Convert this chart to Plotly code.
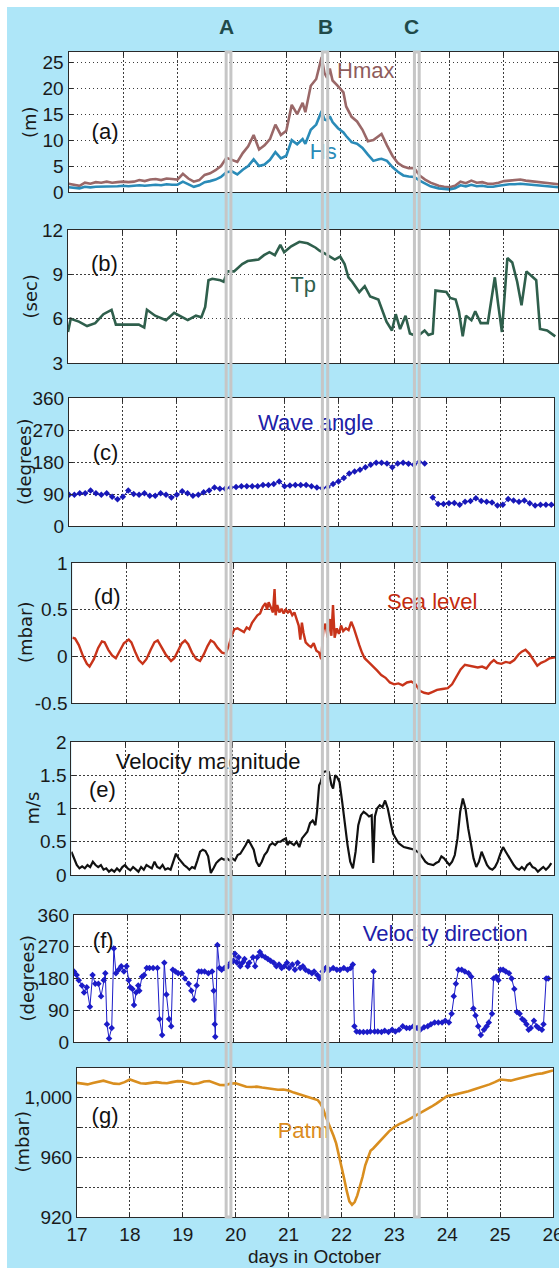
import plotly.graph_objects as go

# ---------------- data (days in October) ----------------
# (a) wave heights, m
T_A = [17.0, 17.1, 17.2, 17.3, 17.4, 17.5, 17.6, 17.7, 17.8, 17.9,
       18.0, 18.1, 18.2, 18.3, 18.4, 18.5, 18.6, 18.7, 18.8, 18.9,
       19.0, 19.1, 19.2, 19.3, 19.4, 19.5, 19.6, 19.7, 19.8, 19.9,
       20.0, 20.1, 20.2, 20.3, 20.4, 20.5, 20.6, 20.7, 20.8, 20.9,
       21.0, 21.1, 21.2, 21.3, 21.35, 21.45, 21.55, 21.65, 21.7, 21.75,
       21.8, 21.85, 21.95, 22.05, 22.1, 22.2, 22.3, 22.4, 22.5, 22.6,
       22.7, 22.75, 22.85, 22.95, 23.05, 23.15, 23.25, 23.35, 23.45, 23.55,
       23.65, 23.8, 23.9, 24.0, 24.1, 24.2, 24.3, 24.4, 24.5, 24.6,
       24.7, 24.8, 24.9, 25.0, 25.1, 25.2, 25.3, 25.4, 25.5, 25.6,
       25.7, 25.8, 25.9, 26.0]
HMAX = [1.6, 1.4, 1.2, 1.8, 1.6, 1.9, 1.8, 2.0, 1.8, 1.9,
        2.0, 1.9, 2.0, 2.3, 2.1, 2.4, 2.5, 2.3, 2.6, 2.5,
        2.4, 3.5, 2.6, 2.0, 2.3, 3.3, 3.6, 4.2, 5.0, 6.6,
        6.2, 5.8, 7.5, 8.8, 11.0, 8.2, 9.0, 10.2, 13.0, 11.0,
        11.8, 16.8, 15.0, 17.2, 15.4, 20.5, 21.8, 26.0, 23.0, 22.0,
        23.8, 21.5, 20.4, 19.2, 16.5, 14.5, 13.6, 12.0, 9.8, 10.0,
        10.8, 11.2, 9.0, 7.0, 5.6, 4.9, 4.6, 4.6, 3.2, 2.4,
        1.8, 1.2, 1.0, 0.9, 1.2, 2.0, 1.7, 2.2, 1.8, 1.9,
        1.6, 1.6, 1.8, 2.1, 2.2, 2.3, 2.4, 2.2, 2.1, 2.0,
        1.8, 1.7, 1.6, 1.5]
HS = [0.9, 0.8, 0.7, 1.0, 0.9, 1.0, 1.0, 1.1, 1.0, 1.1,
      1.2, 1.1, 1.2, 1.3, 1.2, 1.3, 1.4, 1.3, 1.5, 1.4,
      1.4, 2.0, 1.5, 1.0, 1.3, 1.9, 2.1, 2.4, 2.9, 3.8,
      4.0, 3.4, 4.3, 5.0, 6.3, 5.0, 5.3, 6.2, 7.7, 6.5,
      7.0, 10.0, 9.2, 10.2, 9.3, 12.0, 13.0, 15.6, 14.0, 13.8,
      14.6, 13.5, 12.3, 11.5, 10.8, 9.6, 9.3, 8.5, 7.2, 6.0,
      6.3, 6.4, 6.0, 4.8, 3.9, 3.2, 3.0, 2.9, 2.2, 1.6,
      1.1, 0.7, 0.6, 0.5, 0.7, 1.3, 1.1, 1.4, 1.1, 1.2,
      1.0, 1.0, 1.2, 1.4, 1.5, 1.5, 1.6, 1.5, 1.4, 1.3,
      1.2, 1.1, 1.0, 0.9]

# (b) peak period, s
T_B = [17.00, 17.05, 17.20, 17.35, 17.50, 17.65, 17.80, 17.88, 17.95, 18.10,
       18.30, 18.40, 18.45, 18.60, 18.80, 18.95, 19.10, 19.20, 19.35, 19.45,
       19.52, 19.58, 19.65, 19.80, 19.86, 19.93, 20.05, 20.20, 20.30, 20.50,
       20.60, 20.70, 20.80, 20.90, 20.97, 21.10, 21.25, 21.40, 21.55, 21.62,
       21.72, 21.80, 21.90, 22.00, 22.08, 22.15, 22.22, 22.35, 22.45, 22.55,
       22.70, 22.85, 22.95, 23.02, 23.10, 23.20, 23.28, 23.35, 23.40, 23.45,
       23.55, 23.62, 23.70, 23.75, 23.95, 24.02, 24.12, 24.18, 24.25, 24.31,
       24.41, 24.48, 24.58, 24.71, 24.84, 24.90, 24.97, 25.07, 25.16, 25.25,
       25.33, 25.42, 25.55, 25.60, 25.67, 25.80, 25.95]
TP = [5.1, 6.0, 5.8, 5.5, 5.7, 6.3, 6.6, 5.6, 5.6, 5.6,
      5.6, 5.4, 6.6, 6.2, 5.9, 6.4, 6.1, 5.9, 6.2, 6.1,
      6.8, 8.6, 8.7, 8.6, 8.5, 9.2, 9.2, 9.7, 9.9, 10.0,
      10.3, 10.5, 10.3, 11.0, 10.5, 10.9, 11.2, 11.1, 10.8, 10.6,
      10.4, 10.2, 10.0, 10.2, 9.7, 8.8, 8.5, 7.8, 8.2, 7.5,
      7.3, 5.8, 5.2, 6.3, 5.3, 6.2, 5.0, 4.9, None, 4.9,
      5.2, 4.9, 5.0, 7.9, 7.8, 7.4, 7.3, 6.5, 4.8, 6.2,
      5.9, 6.5, 5.7, 5.7, 8.8, 7.0, 5.1, 10.1, 9.8, 8.5,
      6.9, 9.2, 8.8, 8.6, 5.3, 5.2, 4.8]

# (c) wave direction, degrees
T_C = [17.0, 17.1, 17.2, 17.3, 17.4, 17.5, 17.6, 17.7, 17.8, 17.9,
       18.0, 18.1, 18.2, 18.3, 18.4, 18.5, 18.6, 18.7, 18.8, 18.9,
       19.0, 19.1, 19.2, 19.3, 19.4, 19.5, 19.6, 19.7, 19.8, 19.9,
       20.0, 20.1, 20.2, 20.3, 20.4, 20.5, 20.6, 20.7, 20.8, 20.9,
       21.0, 21.1, 21.2, 21.3, 21.4, 21.5, 21.6, 21.7, 21.8, 21.9,
       22.0, 22.1, 22.2, 22.3, 22.4, 22.5, 22.6, 22.7, 22.8, 22.9,
       23.0, 23.1, 23.2, 23.3, 23.4, 23.5, 23.6, 23.68, 23.75, 23.85,
       23.95, 24.05, 24.15, 24.25, 24.35, 24.45, 24.55, 24.65, 24.75, 24.85,
       24.95, 25.05, 25.15, 25.25, 25.35, 25.45, 25.55, 25.65, 25.75, 25.85,
       25.95]
WAVE_DIR = [88, 88, 92, 92, 100, 92, 88, 92, 82, 75,
            82, 100, 90, 88, 92, 85, 85, 92, 88, 80,
            88, 98, 92, 85, 88, 95, 100, 108, 105, 105,
            108, 110, 112, 112, 112, 112, 115, 115, 118, 125,
            112, 114, 115, 115, 115, 112, 108, 106, 110, 118,
            125, 135, 148, 153, 158, 165, 172, 178, 178, 176,
            165, 176, 178, 175, 172, 180, 176, None, 80, 62,
            62, 64, 65, 60, 68, 70, 78, 70, 68, 66,
            58, 60, 76, 72, 68, 72, 64, 58, 60, 60,
            60]

# (d) sea level, mbar
T_D = [17.00, 17.05, 17.12, 17.20, 17.27, 17.32, 17.40, 17.48, 17.55, 17.60,
       17.67, 17.74, 17.81, 17.88, 17.96, 18.05, 18.10, 18.17, 18.24, 18.31,
       18.38, 18.46, 18.53, 18.59, 18.66, 18.74, 18.84, 18.90, 18.97, 19.04,
       19.10, 19.16, 19.23, 19.31, 19.38, 19.45, 19.52, 19.58, 19.64, 19.71,
       19.79, 19.86, 19.92, 19.97, 20.02, 20.08, 20.14, 20.20, 20.25, 20.30,
       20.35, 20.40, 20.45, 20.50, 20.55, 20.60, 20.63, 20.66, 20.70, 20.74,
       20.77, 20.79, 20.82, 20.86, 20.90, 20.94, 20.98, 21.02, 21.06, 21.10,
       21.14, 21.18, 21.22, 21.25, 21.28, 21.31, 21.35, 21.40, 21.45, 21.50,
       21.55, 21.60, 21.64, 21.68, 21.72, 21.76, 21.80, 21.83, 21.86, 21.89,
       21.93, 21.97, 22.01, 22.05, 22.10, 22.15, 22.20, 22.25, 22.30, 22.35,
       22.40, 22.45, 22.52, 22.60, 22.68, 22.76, 22.84, 22.92, 23.00, 23.08,
       23.16, 23.24, 23.32, 23.40, 23.48, 23.56, 23.64, 23.72, 23.80, 23.90,
       24.00, 24.08, 24.16, 24.24, 24.32, 24.40, 24.48, 24.56, 24.64, 24.72,
       24.80, 24.86, 24.92, 25.00, 25.08, 25.16, 25.24, 25.32, 25.38, 25.45,
       25.52, 25.60, 25.67, 25.74, 25.82, 25.90, 26.00]
SEA_LEVEL = [0.20, 0.19, 0.12, 0.00, -0.08, -0.11, -0.03, 0.09, 0.16, 0.15,
             0.07, 0.01, -0.02, 0.05, 0.14, 0.18, 0.15, 0.05, -0.04, -0.08,
             -0.03, 0.07, 0.15, 0.17, 0.10, 0.02, -0.05, -0.02, 0.06, 0.14,
             0.17, 0.13, 0.04, -0.03, -0.05, 0.02, 0.11, 0.17, 0.15, 0.09,
             0.04, 0.03, 0.12, 0.22, 0.29, 0.30, 0.28, 0.26, 0.31, 0.29,
             0.36, 0.40, 0.44, 0.46, 0.53, 0.57, 0.50, 0.58, 0.52, 0.47,
             0.72, 0.44, 0.55, 0.47, 0.51, 0.46, 0.50, 0.47, 0.49, 0.44,
             0.47, 0.40, 0.33, 0.18, 0.36, 0.25, 0.15, 0.12, 0.10, 0.14,
             0.06, 0.04, -0.03, 0.28, 0.35, 0.20, 0.40, 0.22, 0.55, 0.20,
             0.30, 0.24, 0.33, 0.27, 0.30, 0.28, 0.37, 0.30, 0.20, 0.12,
             0.04, -0.02, -0.06, -0.10, -0.15, -0.20, -0.23, -0.28, -0.30, -0.29,
             -0.31, -0.28, -0.27, -0.30, -0.37, -0.39, -0.40, -0.38, -0.36, -0.35,
             -0.34, -0.30, -0.22, -0.14, -0.09, -0.10, -0.11, -0.12, -0.11, -0.13,
             -0.07, -0.04, -0.07, -0.08, -0.06, -0.07, -0.04, 0.02, 0.05, 0.07,
             0.03, -0.04, -0.10, -0.07, -0.05, -0.02, -0.01]

# (e) current speed, m/s
T_E = [17.00, 17.05, 17.10, 17.15, 17.20, 17.25, 17.30, 17.35, 17.40, 17.45,
       17.50, 17.55, 17.60, 17.65, 17.70, 17.75, 17.80, 17.85, 17.90, 17.95,
       18.00, 18.05, 18.10, 18.15, 18.20, 18.25, 18.30, 18.35, 18.40, 18.45,
       18.50, 18.55, 18.60, 18.65, 18.70, 18.75, 18.80, 18.85, 18.90, 18.95,
       19.00, 19.05, 19.10, 19.15, 19.20, 19.25, 19.30, 19.35, 19.40, 19.45,
       19.50, 19.55, 19.60, 19.65, 19.70, 19.75, 19.80, 19.85, 19.90, 19.95,
       20.00, 20.05, 20.10, 20.15, 20.20, 20.25, 20.30, 20.35, 20.40, 20.45,
       20.50, 20.55, 20.60, 20.65, 20.70, 20.75, 20.80, 20.85, 20.90, 20.95,
       21.00, 21.03, 21.07, 21.10, 21.15, 21.20, 21.25, 21.30, 21.35, 21.40,
       21.45, 21.50, 21.55, 21.58, 21.62, 21.65, 21.70, 21.75, 21.80, 21.85,
       21.88, 21.92, 21.95, 22.00, 22.05, 22.10, 22.15, 22.20, 22.25, 22.30,
       22.35, 22.40, 22.45, 22.50, 22.55, 22.60, 22.63, 22.66, 22.70, 22.75,
       22.80, 22.85, 22.90, 22.95, 23.00, 23.05, 23.10, 23.15, 23.20, 23.30,
       23.40, 23.50, 23.55, 23.60, 23.65, 23.70, 23.75, 23.80, 23.85, 23.90,
       23.95, 24.00, 24.05, 24.10, 24.15, 24.20, 24.25, 24.30, 24.35, 24.40,
       24.45, 24.50, 24.55, 24.60, 24.65, 24.70, 24.75, 24.80, 24.85, 24.90,
       24.95, 25.00, 25.05, 25.10, 25.15, 25.20, 25.25, 25.30, 25.35, 25.40,
       25.45, 25.50, 25.55, 25.60, 25.65, 25.70, 25.75, 25.80, 25.85, 25.90,
       25.95]
VEL_MAG = [0.35, 0.25, 0.15, 0.10, 0.13, 0.10, 0.15, 0.12, 0.20, 0.15,
           0.12, 0.15, 0.08, 0.10, 0.05, 0.08, 0.05, 0.10, 0.06, 0.12,
           0.15, 0.10, 0.07, 0.12, 0.08, 0.05, 0.12, 0.08, 0.15, 0.12,
           0.10, 0.20, 0.12, 0.10, 0.15, 0.08, 0.10, 0.08, 0.20, 0.32,
           0.25, 0.20, 0.15, 0.12, 0.08, 0.12, 0.10, 0.22, 0.35, 0.38,
           0.36, 0.28, 0.03, 0.10, 0.18, 0.22, 0.25, 0.23, 0.25, 0.22,
           0.25, 0.22, 0.30, 0.32, 0.38, 0.45, 0.53, 0.45, 0.38, 0.20,
           0.13, 0.20, 0.30, 0.35, 0.45, 0.48, 0.45, 0.50, 0.50, 0.53,
           0.55, 0.45, 0.50, 0.48, 0.45, 0.50, 0.42, 0.55, 0.60, 0.65,
           0.78, 0.82, 0.75, 0.95, 1.35, 1.40, 1.55, 1.56, 1.55, 1.35,
           1.30, 1.50, 1.48, 1.40, 1.10, 0.75, 0.45, 0.20, 0.10, 0.35,
           0.75, 0.90, 0.95, 0.92, 0.88, 0.90, 0.18, 0.88, 1.00, 1.05,
           1.02, 1.12, 1.00, 0.80, 0.62, 0.55, 0.48, 0.45, 0.42, 0.40,
           0.38, 0.32, 0.25, 0.20, 0.17, 0.16, 0.15, 0.18, 0.20, 0.28,
           0.25, 0.20, 0.15, 0.20, 0.30, 0.55, 0.95, 1.15, 1.00, 0.70,
           0.45, 0.25, 0.12, 0.20, 0.35, 0.25, 0.15, 0.10, 0.08, 0.12,
           0.20, 0.32, 0.42, 0.35, 0.28, 0.22, 0.15, 0.10, 0.08, 0.12,
           0.08, 0.15, 0.18, 0.12, 0.10, 0.05, 0.08, 0.12, 0.08, 0.12,
           0.18]

# (f) current direction, degrees
T_F = [17.00, 17.05, 17.09, 17.15, 17.19, 17.24, 17.30, 17.35, 17.40, 17.46,
       17.51, 17.56, 17.59, 17.62, 17.66, 17.71, 17.75, 17.79, 17.84, 17.89,
       17.94, 17.99, 18.03, 18.06, 18.10, 18.13, 18.17, 18.21, 18.23, 18.28,
       18.32, 18.37, 18.42, 18.49, 18.57, 18.61, 18.66, 18.70, 18.74, 18.79,
       18.83, 18.86, 18.91, 18.96, 19.03, 19.09, 19.16, 19.21, 19.26, 19.31,
       19.35, 19.40, 19.46, 19.53, 19.60, 19.63, 19.65, 19.66, 19.70, 19.74,
       19.78, 19.83, 19.90, 19.95, 20.00, 20.03, 20.07, 20.10, 20.13, 20.17,
       20.21, 20.27, 20.30, 20.37, 20.41, 20.45, 20.50, 20.54, 20.60, 20.65,
       20.70, 20.76, 20.81, 20.86, 20.91, 20.96, 21.01, 21.05, 21.11, 21.16,
       21.21, 21.26, 21.31, 21.36, 21.42, 21.48, 21.52, 21.58, 21.62, 21.68,
       21.74, 21.81, 21.88, 21.95, 22.01, 22.08, 22.15, 22.21, 22.25, 22.28,
       22.32, 22.38, 22.45, 22.52, 22.58, 22.64, 22.66, 22.72, 22.79, 22.85,
       22.92, 22.99, 23.05, 23.12, 23.19, 23.26, 23.32, 23.39, 23.46, 23.52,
       23.59, 23.66, 23.72, 23.79, 23.86, 23.93, 23.99, 24.06, 24.11, 24.15,
       24.19, 24.24, 24.30, 24.36, 24.43, 24.48, 24.52, 24.56, 24.61, 24.66,
       24.72, 24.77, 24.81, 24.87, 24.90, 24.95, 24.99, 25.03, 25.08, 25.13,
       25.19, 25.24, 25.29, 25.34, 25.39, 25.44, 25.48, 25.52, 25.56, 25.60,
       25.66, 25.71, 25.75, 25.81, 25.84, 25.89, 25.93]
VEL_DIR = [200, 190, 175, 160, 140, 155, 100, 190, 165, 165,
           130, 175, 195, 50, 10, 40, 265, 195, 205, 215,
           200, 215, 175, 155, 150, 105, 140, 160, 145, 185,
           190, 210, 210, 210, 210, 65, 20, 225, 135, 65,
           45, 205, 200, 195, 195, 180, 165, 145, 120, 160,
           200, 200, 200, 195, 200, 145, 50, 15, 275, 210,
           205, 210, 215, 225, 230, 250, 225, 240, 215, 225,
           235, 215, 225, 240, 215, 240, 255, 245, 240, 235,
           230, 225, 215, 220, 210, 215, 225, 210, 220, 205,
           225, 210, 215, 205, 200, 195, 200, 190, 180, 200,
           210, 205, 210, 205, 205, 210, 205, 210, 220, 45,
           30, 28, 28, 28, 30, 200, 30, 30, 28, 32,
           28, 35, 30, 35, 45, 40, 40, 45, 40, 35,
           42, 45, 50, 55, 55, 55, 60, 55, 80, 130,
           165, 205, 205, 200, 195, 185, 95, 75, 45, 20,
           35, 45, 55, 80, 180, 185, 175, 205, 205, 200,
           195, 180, 150, 85, 80, 65, 60, 50, 35, 40,
           60, 45, 40, 35, 50, 180, 180]

# (g) atmospheric pressure, mbar
T_G = [17.0, 17.1, 17.2, 17.3, 17.4, 17.5, 17.6, 17.7, 17.8, 17.9,
       18.0, 18.1, 18.2, 18.3, 18.4, 18.5, 18.6, 18.7, 18.8, 18.9,
       19.0, 19.1, 19.2, 19.3, 19.4, 19.5, 19.6, 19.7, 19.8, 19.9,
       20.0, 20.1, 20.2, 20.3, 20.4, 20.5, 20.6, 20.7, 20.8, 20.9,
       21.0, 21.1, 21.2, 21.3, 21.4, 21.5, 21.55, 21.6, 21.65, 21.7,
       21.75, 21.8, 21.85, 21.9, 21.95, 22.0, 22.05, 22.1, 22.15, 22.2,
       22.25, 22.3, 22.35, 22.4, 22.45, 22.5, 22.55, 22.6, 22.65, 22.7,
       22.8, 22.9, 23.0, 23.1, 23.2, 23.3, 23.4, 23.5, 23.6, 23.7,
       23.8, 23.9, 24.0, 24.1, 24.2, 24.3, 24.4, 24.5, 24.6, 24.7,
       24.8, 24.9, 25.0, 25.1, 25.2, 25.3, 25.4, 25.5, 25.6, 25.7,
       25.8, 25.9, 26.0]
PATM = [1010.0, 1009.5, 1009.0, 1010.0, 1011.0, 1011.5, 1010.5, 1009.5, 1009.3, 1010.5,
        1012.3, 1011.0, 1009.8, 1009.5, 1010.0, 1010.5, 1010.0, 1009.8, 1010.5, 1011.2,
        1011.0, 1010.0, 1009.3, 1009.8, 1011.0, 1011.3, 1010.0, 1008.6, 1008.5, 1009.5,
        1009.8, 1008.5, 1007.4, 1007.2, 1007.5, 1006.9, 1006.5, 1006.0, 1005.4, 1005.6,
        1004.9, 1003.5, 1002.5, 1001.5, 1000.5, 999.3, 998.5, 996.3, 993.0, 987.7,
        983.5, 979.2, 974.5, 969.4, 962.0, 954.7, 946.0, 937.5, 930.5, 928.2,
        930.0, 934.5, 940.0, 947.0, 954.7, 960.0, 964.5, 966.0, 968.0, 970.0,
        974.0, 977.5, 980.4, 982.5, 984.0, 986.0, 987.7, 989.5, 991.9, 994.0,
        996.3, 999.0, 1001.2, 1001.8, 1002.5, 1003.3, 1004.4, 1005.5, 1006.6, 1007.8,
        1009.0, 1010.5, 1012.3, 1012.0, 1011.5, 1012.5, 1013.5, 1014.5, 1015.4, 1016.0,
        1016.4, 1017.5, 1018.4]

# storm phases marked across all panels (day ranges on the bottom axis)
EVENT_NAMES = ["A", "B", "C"]
EVENT_START = [19.82, 21.64, 23.38]
EVENT_END = [19.91, 21.74, 23.47]
EVENT_LABEL_X = [19.83, 21.69, 23.33]

DAY_TICKS = [17, 18, 19, 20, 21, 22, 23, 24, 25, 26]

# ---------------- layout helpers ----------------
W, H = 559, 1268
EDGE = 7                       # thin white border along the left and top
BG = "#aee6f8"
AXC = "#2a2a2a"
GRID = "#3c3c3c"
GRID_DASH = "1.5px,2.5px"
NARROW = "Liberation Sans Narrow, Arial Narrow, Liberation Sans, sans-serif"
TICK_FONT = dict(family=NARROW, size=19, color="#1a1a1a")
YTITLE_FONT = dict(family="DejaVu Sans, sans-serif", size=18, color="#1a1a1a")


def px_x(px):
    return px / W


def px_y(py):
    return 1 - py / H


# plot frames in pixels: left, right, top, bottom
FRAMES = [
    (68.6, 558.4, 52, 192),
    (68.0, 558.0, 230, 363),
    (69.0, 554.0, 398, 526),
    (72.4, 555.0, 563, 703),
    (71.4, 554.0, 742, 875),
    (74.0, 552.0, 915, 1042),
    (77.0, 553.0, 1068, 1217),
]

Y_SPECS = [
    dict(range=[0, 27], tickvals=[0, 5, 10, 15, 20, 25],
         ticktext=["0", "5", "10", "15", "20", "25"], title="(m)", tx=30),
    dict(range=[3, 12], tickvals=[3, 6, 9, 12],
         ticktext=["3", "6", "9", "12"], title="(sec)", tx=30),
    dict(range=[0, 360], tickvals=[0, 90, 180, 270, 360],
         ticktext=["0", "90", "180", "270", "360"], title="(degrees)", tx=25),
    dict(range=[-0.5, 1], tickvals=[-0.5, 0, 0.5, 1],
         ticktext=["-0.5", "0", "0.5", "1"], title="(mbar)", tx=25),
    dict(range=[0, 2], tickvals=[0, 0.5, 1, 1.5, 2],
         ticktext=["0", "0.5", "1", "1.5", "2"], title="m/s", tx=32),
    dict(range=[0, 360], tickvals=[0, 90, 180, 270, 360],
         ticktext=["0", "90", "180", "270", "360"], title="(degrees)", tx=27),
    dict(range=[920, 1020], tickvals=[920, 940, 960, 980, 1000, 1020],
         ticktext=["920", "", "960", "", "1,000", ""], title="(mbar)", tx=22),
]


def ax_id(i, kind):
    return kind if i == 1 else f"{kind}{i}"


fig = go.Figure()


def add_line(i, x, y, color, width=2.4, markers=False):
    kw = dict(x=x, y=y, xaxis=ax_id(i, "x"), yaxis=ax_id(i, "y"),
              line=dict(color=color, width=width), showlegend=False,
              hoverinfo="skip", connectgaps=False)
    if markers:
        kw.update(mode="lines+markers",
                  marker=dict(symbol="diamond", size=5, color=color))
    else:
        kw.update(mode="lines")
    fig.add_trace(go.Scatter(**kw))


def add_text(i, x, y, text, color, size=22):
    fig.add_trace(go.Scatter(
        x=[x], y=[y], mode="text", text=[text], textposition="middle center",
        textfont=dict(family=NARROW, size=size, color=color),
        xaxis=ax_id(i, "x"), yaxis=ax_id(i, "y"),
        showlegend=False, hoverinfo="skip", cliponaxis=False))


# (a)
add_line(1, T_A, HMAX, "#9a6868", 2.6)
add_line(1, T_A, HS, "#2a8bb8", 2.6)
add_text(1, 17.67, 11.2, "(a)", "#111111")
add_text(1, 22.46, 23.1, "Hmax", "#8e5c5c")
add_text(1, 21.68, 7.4, "Hs", "#2a8bb8")
# (b)
add_line(2, T_B, TP, "#2f5f4c", 2.6)
add_text(2, 17.67, 9.6, "(b)", "#111111")
add_text(2, 21.32, 8.2, "Tp", "#2f5f4c")
# (c)
add_line(3, T_C, WAVE_DIR, "#1818b8", 1.0, markers=True)
add_text(3, 17.68, 200, "(c)", "#111111")
add_text(3, 21.58, 286, "Wave angle", "#2020a8")
# (d)
add_line(4, T_D, SEA_LEVEL, "#c8341a", 2.4)
add_text(4, 17.65, 0.62, "(d)", "#111111")
add_text(4, 23.71, 0.57, "Sea level", "#c42c10")
# (e)
add_line(5, T_E, VEL_MAG, "#111111", 2.2)
add_text(5, 17.58, 1.25, "(e)", "#111111")
add_text(5, 19.55, 1.675, "Velocity magnitude", "#111111")
# (f)
add_line(6, T_F, VEL_DIR, "#1c1cc8", 1.0, markers=True)
add_text(6, 17.55, 283, "(f)", "#111111")
add_text(6, 23.99, 301, "Velocity direction", "#2020a8")
# (g)
add_line(7, T_G, PATM, "#d98e1f", 2.6)
add_text(7, 17.53, 986.5, "(g)", "#111111")
add_text(7, 21.28, 976.7, "Patm", "#dc8c1e")

layout = dict(
    width=W, height=H,
    margin=dict(l=0, r=0, t=0, b=0, autoexpand=False),
    paper_bgcolor=BG, plot_bgcolor="white",
    showlegend=False,
)

annotations = []
for i, (frame, spec) in enumerate(zip(FRAMES, Y_SPECS), start=1):
    left, right, top, bottom = frame
    xd = [px_x(left), min(px_x(right), 1.0)]
    yd = [px_y(bottom), px_y(top)]
    last = i == len(FRAMES)
    xa = dict(domain=xd, anchor=ax_id(i, "y"), range=[17, 26],
              tickvals=DAY_TICKS, ticktext=[str(d) for d in DAY_TICKS],
              ticks="inside", ticklen=4, tickcolor=AXC,
              showline=True, linecolor=AXC, linewidth=1.2, mirror="ticks",
              showgrid=True, gridcolor=GRID, griddash=GRID_DASH, gridwidth=1,
              zeroline=False, showticklabels=last, tickfont=TICK_FONT,
              ticklabeloverflow="allow", automargin=False, fixedrange=True)
    ya = dict(domain=yd, anchor=ax_id(i, "x"), range=spec["range"],
              tickvals=spec["tickvals"], ticktext=spec["ticktext"],
              ticks="inside", ticklen=4, tickcolor=AXC,
              showline=True, linecolor=AXC, linewidth=1.2, mirror="ticks",
              showgrid=True, gridcolor=GRID, griddash=GRID_DASH, gridwidth=1,
              zeroline=False, tickfont=TICK_FONT, automargin=False,
              fixedrange=True)
    layout["xaxis" if i == 1 else f"xaxis{i}"] = xa
    layout["yaxis" if i == 1 else f"yaxis{i}"] = ya
    annotations.append(dict(
        text=spec["title"], textangle=-90, showarrow=False,
        xref="paper", yref="paper",
        x=px_x(spec["tx"]), y=px_y((top + bottom) / 2),
        xanchor="center", yanchor="middle", font=YTITLE_FONT))

# x-axis title under the bottom panel
g_left, g_right = FRAMES[-1][0], FRAMES[-1][1]
annotations.append(dict(
    text="days in October", showarrow=False, xref="paper", yref="paper",
    x=px_x((g_left + g_right) / 2), y=px_y(1256),
    xanchor="center", yanchor="middle", font=TICK_FONT))

# event window labels at the top
for name, lx in zip(EVENT_NAMES, EVENT_LABEL_X):
    annotations.append(dict(
        text=f"<b>{name}</b>", x=lx, xref="x7", y=px_y(27), yref="paper",
        showarrow=False, xanchor="center", yanchor="middle",
        font=dict(family="Liberation Sans, Arial, sans-serif", size=21,
                  color="#1f4a4a")))

shapes = []
# event windows drawn over every panel
top_px, bottom_px = FRAMES[0][2], FRAMES[-1][3]
for x0, x1 in zip(EVENT_START, EVENT_END):
    shapes.append(dict(type="rect", xref="x7", yref="paper",
                       x0=x0, x1=x1, y0=px_y(bottom_px), y1=px_y(top_px),
                       line=dict(color="#c6c6c6", width=3),
                       fillcolor="rgba(0,0,0,0)", layer="above"))
# white border along the left and top edges
shapes.append(dict(type="rect", xref="paper", yref="paper",
                   x0=0, x1=px_x(EDGE), y0=0, y1=1,
                   fillcolor="white", line=dict(width=0)))
shapes.append(dict(type="rect", xref="paper", yref="paper",
                   x0=0, x1=1, y0=px_y(EDGE), y1=1,
                   fillcolor="white", line=dict(width=0)))

layout["annotations"] = annotations
layout["shapes"] = shapes
fig.update_layout(**layout)

fig.write_html("out.html")
